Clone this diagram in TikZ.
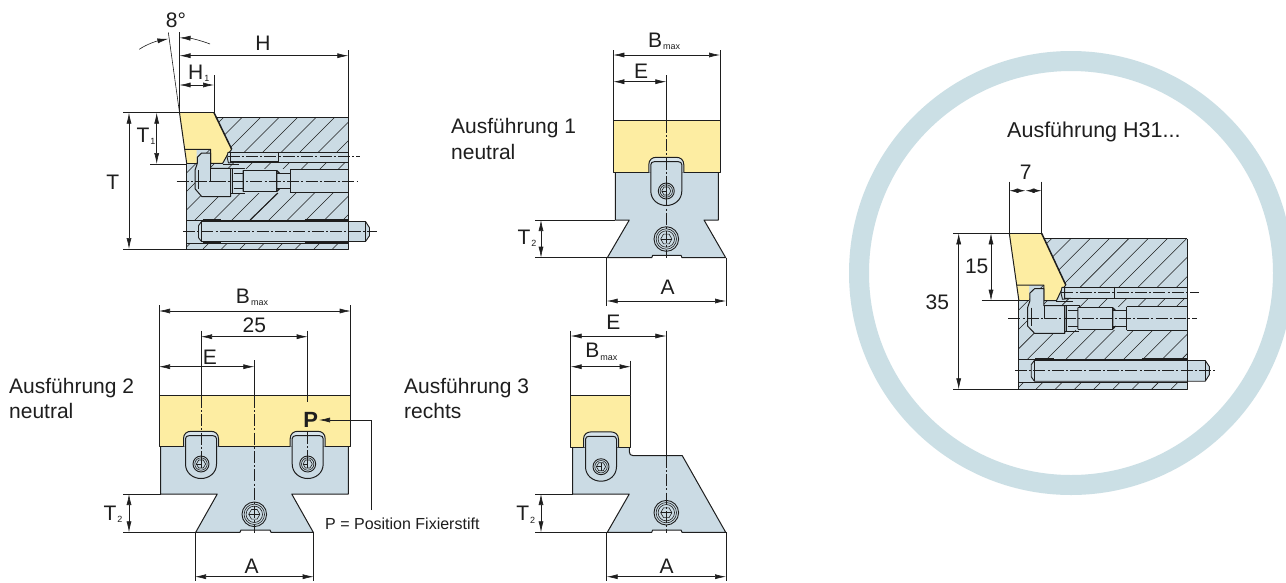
\documentclass[tikz,border=0pt]{standalone}
\usepackage{fontspec}
\setmainfont{Liberation Sans}
\usetikzlibrary{arrows.meta}
\definecolor{jawyellow}{HTML}{FDEDA2}
\definecolor{steelblue}{HTML}{CBDBE4}
\definecolor{ringblue}{HTML}{CBDFE5}
\definecolor{ink}{HTML}{1E1E1E}
\tikzset{
  dimline/.style={line width=.6pt,draw=ink,arrows={Latex[length=11pt,width=5pt]-Latex[length=11pt,width=5pt]}},
  extline/.style={line width=.6pt,draw=ink},
  centerl/.style={line width=.55pt,draw=ink,dash pattern=on 12pt off 2.2pt on 2pt off 2.2pt},
  outl/.style={line width=1pt,draw=ink,line join=round},
  thinl/.style={line width=.6pt,draw=ink,line join=round},
  thickl/.style={line width=1.6pt,draw=ink},
  hatchl/.style={line width=.55pt,draw=ink},
  lbl/.style={inner sep=0pt,text=ink,font=\fontsize{21}{23}\selectfont},
  sml/.style={inner sep=0pt,text=ink,font=\fontsize{16}{18}\selectfont},
}
% main letter + small index, positioned by centre of the letter
\newcommand{\subl}[6]{\node[lbl,anchor=center] (#1) at (#2,#3) {#4};
  \node[inner sep=0pt,text=ink,font=\fontsize{#6}{#6}\selectfont,anchor=base west] (#1s) at ([xshift=.6pt,yshift=-2.6pt]#1.base east) {#5};}
\newcommand{\smallscrew}[2]{\begin{scope}[shift={(#1,#2)}]
  \draw[thinl,line width=.9pt,fill=steelblue] (0,0) circle (8);
  \draw[thinl] (0,0) circle (6.2);
  \draw[thinl] (4.6,0)--(2.3,4)--(-2.3,4)--(-4.6,0)--(-2.3,-4)--(2.3,-4)--cycle;
  \draw[thinl] (0,-4)--(0,4) (-4.6,0)--(0,0);
\end{scope}}
\newcommand{\bigscrew}[2]{\begin{scope}[shift={(#1,#2)}]
  \draw[thinl,line width=.9pt,fill=steelblue] (0,0) circle (12.3);
  \draw[thinl] (0,0) circle (10.2);
  \draw[thinl] (0,0) circle (8.2);
  \draw[thinl] (5.6,0)--(2.8,4.85)--(-2.8,4.85)--(-5.6,0)--(-2.8,-4.85)--(2.8,-4.85)--cycle;
  \draw[thinl] (-5.6,0)--(5.6,0);
\end{scope}}
% cx, yellow lower edge, screw y
\newcommand{\lug}[3]{\begin{scope}[shift={(#1,0)}]
  \draw[outl,fill=steelblue!75!white] (-17.5,#2)--(-17.5,{#2-8}) .. controls (-17.5,{#2-13}) and (-14,{#2-15.4}) .. (-10,{#2-15.4})
     --(10,{#2-15.4}) .. controls (14,{#2-15.4}) and (17.5,{#2-13}) .. (17.5,{#2-8})--(17.5,#2);
  \draw[outl,fill=steelblue] (-15.5,{#2-8}) .. controls (-15.5,{#2-10}) and (-14,{#2-11}) .. (-12,{#2-11})
     --(12,{#2-11}) .. controls (14,{#2-11}) and (15.5,{#2-10}) .. (15.5,{#2-8})
     --(15.5,#3) .. controls (15.5,{#3+9}) and (8,{#3+14.5}) .. (0,{#3+14.5})
     .. controls (-8,{#3+14.5}) and (-15.5,{#3+9}) .. (-15.5,#3)--cycle;
  \draw[thickl,line width=1.2pt] (-10.5,{#2-11})--(10.5,{#2-11});
\end{scope}
\smallscrew{#1}{#3}}
% side view: uses the \sv... parameters
\newcommand{\sideview}{\begin{scope}[xshift=\svL pt,xscale=\svS]
  \fill[steelblue] (0,\bT) rectangle (161.8,\bB);
  \begin{scope}
    \clip (0,\bT) rectangle (161.8,\bB);
    \foreach \t in {-150,-131.5,...,170}{
      \draw[hatchl] (\t,\bB)--({\t+(\bB-\bT)/\svS},\bT);
    }
  \end{scope}
  % upper bore
  \fill[steelblue] (41,\uT) rectangle (161.8,\uB);
  \draw[thinl] (91.8,\uT)--(161.8,\uT) (91.8,\uB)--(161.8,\uB);
  \draw[thickl] (44,\uT)--(91.8,\uT) (44,\uB)--(91.8,\uB);
  \draw[outl,line width=1pt] (91.8,{\uT-.8})--(91.8,{\uB+.8});
  % middle bore
  \fill[steelblue] (44,\mT) rectangle (103.5,\mB);
  \fill[steelblue] (103.5,\mT) rectangle (161.8,\mB);
  \draw[thinl,line width=.8pt] (103.5,\mT)--(161.8,\mT) (103.5,\mB)--(161.8,\mB) (103.5,\mT)--(103.5,\mB);
  \draw[thinl] (44,{\mT-1})--(58,{\mT-1})--(58,\mT) (44,{\mB+1})--(58,{\mB+1});
  \draw[thinl,line width=.9pt] (56.8,{\mT+1})--(90.2,{\mT+1}) (56.8,{\mB-1})--(90.2,{\mB-1});
  \draw[thinl] (47,{\mT+4})--(56.8,{\mT+4}) (47,{\mB-4})--(56.8,{\mB-4}) (90.2,{\mT+4})--(103.5,{\mT+4}) (90.2,{\mB-4})--(103.5,{\mB-4});
  \draw[thickl,line width=1.2pt] (56.8,{\mT+1})--(56.8,{\mB-1}) (90.2,{\mT+1})--(93,{\mT+4}) (90.2,{\mB-1})--(93,{\mB-4}) (90.2,{\mT+1})--(90.2,{\mB-1});
  % lower bore
  \fill[steelblue] (0,\lT) rectangle (161.8,\lB);
  \draw[thinl] (0,\lT)--(161.8,\lT) (0,\lB)--(161.8,\lB);
  \draw[thickl,line width=1.3pt] (16,\lT)--(34,\lT) (16,\lB)--(34,\lB) (118,\lT)--(161.8,\lT) (118,\lB)--(161.8,\lB);
  \draw[outl,fill=steelblue,line width=.9pt] (15,{\lT+1.5})--(179,{\lT+1.5})--(183,{\lC-4})--(183,{\lC+4})--(179,{\lB-1.5})--(15,{\lB-1.5})--(12,{\lC+6})--(12,{\lC-6})--cycle;
  \draw[thinl] (179,{\lT+1.5})--(179,{\lB-1.5}) (15,{\lT+1.5})--(15,{\lB-1.5});
  % body outline
  \draw[outl] (161.8,\bT) -- (161.8,\bB) -- (0,\bB) -- (0,\yB);
  \draw[outl,line width=.9pt] (25,\bT) -- (161.8,\bT);
  % yellow jaw
  \fill[jawyellow] (\svTL,\yT)--(\svTR,\yT)--(45.2,\yS)--(40.8,{\yS+5.7})--(36.2,\yB)--(24.2,\yB)--(24.2,\yS)--(10,\yS)--(10,\yB)--(0.2,\yB)--cycle;
  \draw[thickl,line width=1.5pt] (\svTR,\yT)--(45.2,\yS);
  \draw[outl] (\svTL,\yT)--(0.2,\yB);
  \draw[outl] (45.2,\yS)--(40.8,{\yS+5.7})--(36.2,\yB)--(24.2,\yB)--(24.2,\yS)--(-1.5,\yS);
  \draw[thinl] (\svTL,\yT)--(\svTR,\yT);
  \draw[outl] (0,\yB)--(10,\yB);
  % clamp lug with head
  \draw[outl,fill=steelblue] (15.2,{\yS+3.7})--(24.2,{\yS+3.7})--(24.2,{\yB+5})--(44.2,{\yB+5})--(44.2,\hB)--(15.2,\hB)--(8.5,{\mB-4})--(8.5,{\mT+1})--(10.8,\yB)--(10.8,{\yS+8})--cycle;
  \draw[thinl] (24.2,{\yB+5})--(24.2,\mC)--(30,\mC);
  \draw[thinl] (11.8,{\mT+1})--(11.8,{\mB-4});
  \draw[thickl,line width=1.1pt] (44.2,{\yB+5})--(44.2,\hB) (46,{\mT-.5})--(46,{\mB+.5});
  % screw tip under the jaw
  \draw[thickl,line width=1.1pt] (36.2,{\yB+1})--(52,{\yB+1});
  \draw[outl,fill=steelblue,line width=.9pt] (41.5,\uT)--(44,\uT)--(44,\uB)--(50,\uB)--(42,{\uB+1})--(40.5,\uC)--cycle;
  % centre lines
  \draw[centerl] (41,\uC)--(173.5,\uC);
  \draw[centerl] (-9.8,\mC)--(171,\mC);
  \draw[centerl] (-3.5,\lC)--(190,\lC);
\end{scope}}
\begin{document}
\begin{tikzpicture}[x=1pt,y=-1pt]
\clip (0,0) rectangle (1286,582);
\fill[white] (0,0) rectangle (1286,582);
% ring
\draw[ringblue,line width=20pt] (1071,273) circle (212);

% ===== side view, basic =====
\def\svL{186.5}\def\svS{1}\def\svTL{-7}\def\svTR{27.5}
\def\yT{112.7}\def\bT{117}\def\yS{149.3}\def\yB{163.3}
\def\uT{152.3}\def\uC{156.7}\def\uB{162}
\def\mT{169.3}\def\mC{181.3}\def\mB{192.7}\def\hB{196.5}
\def\lT{220}\def\lC{231.7}\def\lB{243}\def\bB{249}
\sideview
\draw[thickl,line width=1pt] (250,220)--(278,193);
\draw[extline] (168.3,32.3)--(179.5,112.7);
\draw[extline] (179.5,32.3)--(179.5,112.7);
\draw[extline] (348.3,50)--(348.3,117);
\draw[extline] (214,75)--(214,112.7);
\draw[extline] (123.3,112.7)--(179.5,112.7);
\draw[extline] (123.3,249)--(186.5,249);
\draw[extline] (150,164)--(186.5,164);
\draw[line width=.6pt,draw=ink,-{Latex[length=11pt,width=5pt]}] (139.3,49.3) .. controls (147,44) and (157,41) .. (168.4,38.8);
\draw[line width=.6pt,draw=ink,-{Latex[length=11pt,width=5pt]}] (210,44) .. controls (201,40.5) and (191,38.2) .. (179.5,37.8);
\draw[dimline] (179.5,55.7)--(348.3,55.7);
\draw[dimline] (179.5,85)--(214,85);
\draw[dimline] (129,112.7)--(129,249);
\draw[dimline] (156.7,112.7)--(156.7,164);
\node[lbl] (ang) at (176,20) {8°};
\node[lbl] (hh) at (263,43) {H};
\subl{hone}{195.7}{72}{H}{1}{9}
\node[lbl] (tt) at (112.7,182.7) {T};
\subl{tone}{143}{135}{T}{1}{9}

% ===== Ausfuehrung 1 =====
\node[lbl,anchor=base west] (a1) at (451,133) {Ausführung 1};
\node[lbl,anchor=base west] (a1b) at (451,159) {neutral};
\draw[extline] (613.3,50)--(613.3,120.7) (720,50)--(720,120.7);
\draw[outl,fill=steelblue] (615.3,172.7)--(615.3,220)--(629.3,220)--(607.3,257.7)--(651.7,257.7)--(652.7,255.3)--(681,255.3)--(682,257.7)--(725.7,257.7)--(704,220)--(718.3,220)--(718.3,172.7);
\draw[outl,fill=jawyellow] (613.3,120.7) rectangle (720,172.7);
\lug{666.3}{172.7}{191}
\bigscrew{666.3}{239}
\draw[extline] (666.3,75)--(666.3,120.7);
\draw[centerl] (666.3,120.7)--(666.3,258);
\draw[dimline] (613.3,55)--(720,55);
\draw[dimline] (613.3,81.7)--(666.3,81.7);
\draw[extline] (535,220)--(615.3,220) (535,257.7)--(607.3,257.7);
\draw[dimline] (541,220)--(541,257.7);
\draw[extline] (606.7,258)--(606.7,306) (726,258)--(726,306);
\draw[dimline] (606.7,301)--(726,301);
\subl{b1}{655}{40}{B}{max}{9}
\node[lbl] (e1) at (641,71.7) {E};
\subl{t1}{524}{237}{T}{2}{9}
\node[lbl] (aa1) at (667.7,287.7) {A};

% ===== Ausfuehrung 2 =====
\node[lbl,anchor=base west] (a2) at (9,393) {Ausführung 2};
\node[lbl,anchor=base west] (a2b) at (9,418) {neutral};
\draw[extline] (159,305)--(159,395.7) (350.7,305)--(350.7,395.7);
\draw[outl,fill=steelblue] (160.7,446.7)--(160.7,494)--(217.3,494)--(195.7,532.3)--(240,532.3)--(241,530)--(270,530)--(271,532.3)--(313.3,532.3)--(291.7,494)--(348.3,494)--(348.3,446.7);
\draw[outl,fill=jawyellow] (159,395.7) rectangle (350.7,446.7);
\lug{201}{446.7}{464}
\lug{307.7}{446.7}{464}
\bigscrew{254.3}{514.3}
\draw[extline] (201,330.7)--(201,395.7) (307.7,330.7)--(307.7,395.7) (254.3,360)--(254.3,395.7);
\draw[centerl] (201,395.7)--(201,464);
\draw[centerl] (307.7,395.7)--(307.7,402) (307.7,432)--(307.7,464);
\draw[centerl] (254.3,395.7)--(254.3,533);
\draw[dimline] (159,311)--(350.7,311);
\draw[dimline] (201,336.7)--(307.7,336.7);
\draw[dimline] (159,366.7)--(254.3,366.7);
\draw[extline] (123,494)--(160.7,494) (123,532.3)--(195.7,532.3);
\draw[dimline] (129,494)--(129,532.3);
\draw[extline] (195,532.3)--(195,581) (313.7,532.3)--(313.7,581);
\draw[dimline] (195,576.7)--(313.7,576.7);
\subl{b2}{243}{296}{B}{max}{9}
\node[lbl] (n25) at (254.3,325) {25};
\node[lbl] (e2) at (210,357) {E};
\subl{t2}{110}{513}{T}{2}{9}
\node[lbl] (aa2) at (251.7,566.7) {A};
\node[lbl,font=\fontsize{22}{24}\selectfont\bfseries] (pp) at (310.7,419.5) {P};
\node[sml,anchor=base west] (pnote) at (325,529) {P = Position Fixierstift};
\coordinate (pbend) at (371.7,420);
\coordinate (pend) at (371.7,510);
\draw[line width=.6pt,draw=ink,-{Latex[length=11pt,width=5pt]}] (pend)--(pbend)--(319,420);

% ===== Ausfuehrung 3 =====
\node[lbl,anchor=base west] (a3) at (404,393) {Ausführung 3};
\node[lbl,anchor=base west] (a3b) at (404,418) {rechts};
\draw[extline] (570.7,330.7)--(570.7,395) (630.7,360.7)--(630.7,395) (666.3,330.7)--(666.3,455.7);
\draw[outl,fill=steelblue] (572.7,447.3)--(572.7,494)--(629.3,494)--(607.3,532.3)--(651.7,532.3)--(652.7,530)--(681,530)--(682,532.3)--(725.7,532.3)--(682.3,455.7)--(633.3,455.7) .. controls (630.5,455.7) and (629.3,454) .. (629.3,451.7)--(629.3,447.3);
\draw[outl,fill=jawyellow] (570.7,395) rectangle (630.7,447.3);
\lug{601}{447.3}{466.7}
\bigscrew{666.3}{512.7}
\draw[centerl] (666.3,455.7)--(666.3,532.5);
\draw[dimline] (570.7,336)--(666.3,336);
\draw[dimline] (570.7,366.7)--(630.7,366.7);
\draw[extline] (535,494)--(572.7,494) (535,532.3)--(607.3,532.3);
\draw[dimline] (541,494)--(541,532.3);
\draw[extline] (606.7,532.3)--(606.7,581) (726,532.3)--(726,581);
\draw[dimline] (606.7,576.7)--(726,576.7);
\node[lbl] (e3) at (613.3,322.3) {E};
\subl{b3}{592.3}{350.7}{B}{max}{9}
\subl{t3}{522.7}{513.3}{T}{2}{9}
\node[lbl] (aa3) at (666.7,566.7) {A};

% ===== side view, H31 =====
\node[lbl,anchor=base west,font=\fontsize{21.5}{23}\selectfont] (h31) at (1007,137) {Ausführung H31...};
\def\svL{1018.7}\def\svS{1.042}\def\svTL{-9}\def\svTR{22}
\def\yT{233.3}\def\bT{238.7}\def\yS{285}\def\yB{300.7}
\def\uT{287.3}\def\uC{292.7}\def\uB{298.3}
\def\mT{306.7}\def\mC{318.3}\def\mB{330}\def\hB{333.3}
\def\lT{359}\def\lC{370.7}\def\lB{382.7}\def\bB{389.3}
\sideview
\draw[extline] (1009.3,181.7)--(1009.3,233.3) (1041.7,181.7)--(1041.7,233.3);
\draw[extline] (953.3,233.3)--(1009.3,233.3) (953.3,389.3)--(1018.7,389.3) (981.7,300.7)--(1018.7,300.7);
\draw[dimline,arrows={Latex[length=9pt,width=4.5pt]-Latex[length=9pt,width=4.5pt]}] (1009.3,190.7)--(1025.5,190.7);
\draw[dimline,arrows={Latex[length=9pt,width=4.5pt]-Latex[length=9pt,width=4.5pt]}] (1025.5,190.7)--(1041.7,190.7);
\draw[dimline] (958.7,233.3)--(958.7,389.3);
\draw[dimline] (991,233.3)--(991,300.7);
\node[lbl] (n7) at (1025.7,172.7) {7};
\node[lbl] (n15) at (976.7,266.7) {15};
\node[lbl] (n35) at (937.3,302.7) {35};
\end{tikzpicture}
\end{document}
